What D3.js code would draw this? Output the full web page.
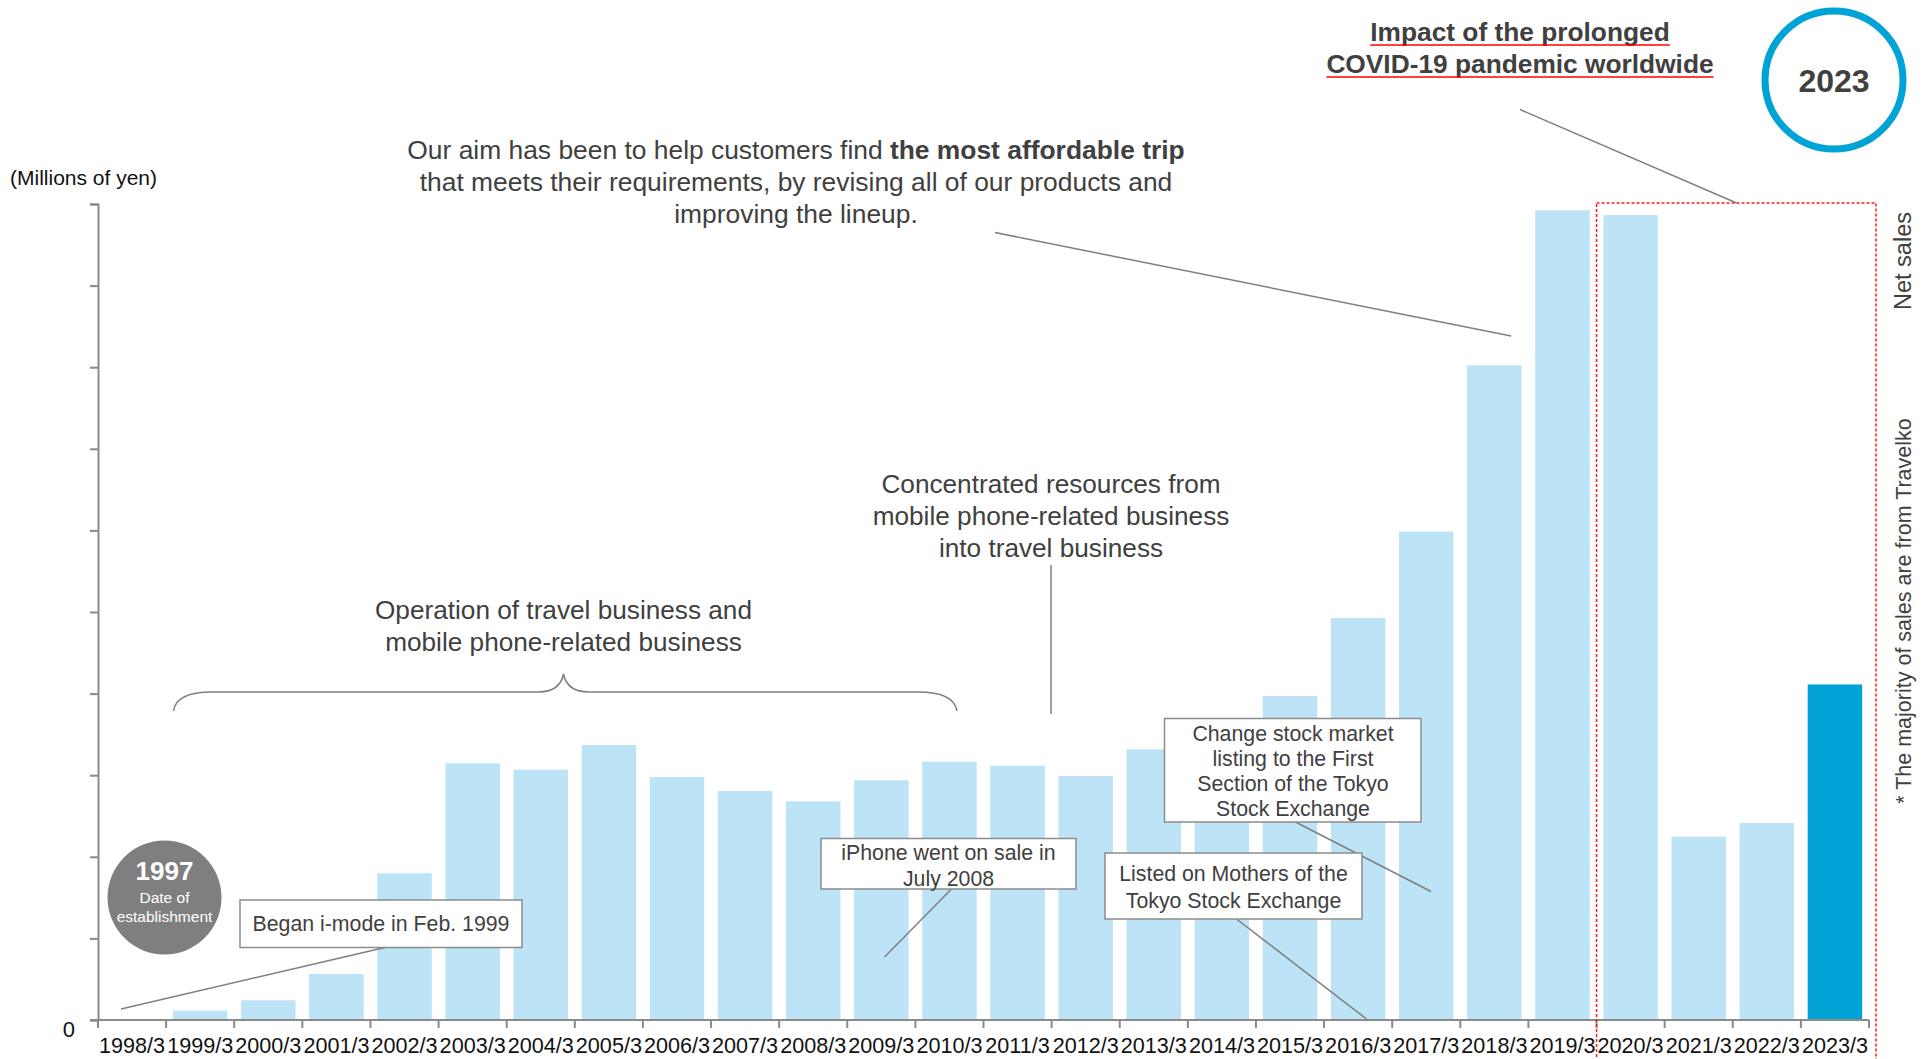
<!DOCTYPE html>
<html>
<head>
<meta charset="utf-8">
<script src="https://cdn.jsdelivr.net/npm/d3@7"></script>
<style>
  html, body { margin: 0; padding: 0; background: #fff; }
  svg { display: block; font-family: "Liberation Sans", Arial, sans-serif; }
</style>
</head>
<body>
<svg id="chart" width="1929" height="1059"></svg>
<script>
// Fiscal years (March year-end)
const categories = [
  "1998/3", "1999/3", "2000/3", "2001/3", "2002/3", "2003/3", "2004/3",
  "2005/3", "2006/3", "2007/3", "2008/3", "2009/3", "2010/3", "2011/3",
  "2012/3", "2013/3", "2014/3", "2015/3", "2016/3", "2017/3", "2018/3",
  "2019/3", "2020/3", "2021/3", "2022/3", "2023/3"
];
// Net sales, millions of yen
const netSales = [
  0, 57, 121, 282, 899, 1573, 1534, 1685, 1489, 1403, 1340, 1469, 1583,
  1558, 1495, 1659, 1765, 1985, 2463, 2993, 4012, 4962, 4932, 1124, 1207, 2056
];
const highlightYear = "2023/3";
const covidYears = ["2020/3", "2021/3", "2022/3", "2023/3"];
const yTicks = [0, 500, 1000, 1500, 2000, 2500, 3000, 3500, 4000, 4500, 5000];
const yTickLabels = ["0", "", "", "", "", "", "", "", "", "", ""];

const svg = d3.select("#chart");
const plot = { left: 98, right: 1869, top: 204, bottom: 1020 };

const x = d3.scaleBand()
  .domain(categories)
  .range([plot.left, plot.right])
  .paddingInner(0.2)
  .paddingOuter(0.1);
const y = d3.scaleLinear()
  .domain([0, d3.max(yTicks)])
  .range([plot.bottom, plot.top]);

const AXIS = "#8a8a8a";
const TEXT = "#404040";
const LEADER = "#7f7f7f";
const LIGHT = "#bde3f7";
const DARK = "#00a3d6";

// band boundary helper
const step = x.step();
const bandStart = c => x(c) - step * x.paddingInner() / 2;

// ---- bars ----
svg.append("g")
  .selectAll("rect")
  .data(categories.map((c, i) => ({ c, v: netSales[i] })))
  .join("rect")
  .attr("x", d => x(d.c))
  .attr("y", d => y(d.v))
  .attr("width", x.bandwidth())
  .attr("height", d => y(0) - y(d.v))
  .attr("fill", d => d.c === highlightYear ? DARK : LIGHT);

// ---- y axis ----
const yAxis = svg.append("g")
  .attr("transform", `translate(${plot.left},0)`)
  .call(d3.axisLeft(y).tickValues(yTicks).tickSize(8).tickPadding(15)
    .tickFormat((d, i) => yTickLabels[i]));
yAxis.select(".domain").attr("stroke", AXIS).attr("stroke-width", 2);
yAxis.selectAll(".tick line").attr("stroke", AXIS).attr("stroke-width", 2);
yAxis.selectAll(".tick text")
  .attr("font-family", "Liberation Sans, Arial, sans-serif")
  .attr("font-size", 22).attr("fill", "#111").attr("dy", "0.74em");

// ---- x axis ----
const xAxis = svg.append("g")
  .attr("transform", `translate(0,${plot.bottom})`)
  .call(d3.axisBottom(x).tickSize(0).tickPadding(18));
xAxis.select(".domain").remove();
xAxis.selectAll(".tick text")
  .attr("font-family", "Liberation Sans, Arial, sans-serif")
  .attr("font-size", 21.6).attr("fill", "#111");
svg.append("line")
  .attr("x1", plot.left - 8).attr("x2", plot.right)
  .attr("y1", plot.bottom).attr("y2", plot.bottom)
  .attr("stroke", AXIS).attr("stroke-width", 2);
svg.append("g").selectAll("line")
  .data(d3.range(categories.length + 1))
  .join("line")
  .attr("x1", i => plot.left + i * step).attr("x2", i => plot.left + i * step)
  .attr("y1", plot.bottom).attr("y2", plot.bottom + 8)
  .attr("stroke", AXIS).attr("stroke-width", 2);

svg.append("text")
  .attr("x", 10).attr("y", 185)
  .attr("font-size", 21).attr("fill", "#111")
  .text("(Millions of yen)");

// ---- COVID period frame ----
const frameLeft = bandStart(covidYears[0]);
svg.append("rect")
  .attr("x", frameLeft).attr("y", plot.top - 1)
  .attr("width", plot.right + 7 - frameLeft).attr("height", 900)
  .attr("fill", "none").attr("stroke", "#ff1a1a")
  .attr("stroke-width", 1.5).attr("stroke-dasharray", "3,2");

// ---- side notes ----
svg.append("text")
  .attr("transform", "translate(1911,261) rotate(-90)")
  .attr("text-anchor", "middle").attr("font-size", 23.5).attr("fill", TEXT)
  .text("Net sales");
svg.append("text")
  .attr("transform", "translate(1911,611) rotate(-90)")
  .attr("text-anchor", "middle").attr("font-size", 21.5).attr("fill", TEXT)
  .text("* The majority of sales are from Travelko");

// ---- helpers ----
function leader(x1, y1, x2, y2) {
  svg.append("line")
    .attr("x1", x1).attr("y1", y1).attr("x2", x2).attr("y2", y2)
    .attr("stroke", LEADER).attr("stroke-width", 1.5);
}
function lines(cx, y0, lh, arr, size, weight) {
  const t = svg.append("text")
    .attr("text-anchor", "middle").attr("font-size", size)
    .attr("fill", TEXT).attr("font-weight", weight || "normal");
  arr.forEach((s, i) => t.append("tspan").attr("x", cx).attr("y", y0 + i * lh).text(s));
  return t;
}
function box(x0, y0, w, h, cx, ty, lh, arr) {
  svg.append("rect")
    .attr("x", x0).attr("y", y0).attr("width", w).attr("height", h)
    .attr("fill", "#fff").attr("stroke", "#8c8c8c").attr("stroke-width", 1.5);
  lines(cx, ty, lh, arr, 21.3);
}

// ---- headline at top right ----
const impact = lines(1520, 41, 32, ["Impact of the prolonged", "COVID-19 pandemic worldwide"], 26.3, "bold");
impact.selectAll("tspan").each(function () {
  const w = this.getComputedTextLength();
  const yy = +d3.select(this).attr("y") + 4;
  svg.append("line")
    .attr("x1", 1520 - w / 2).attr("x2", 1520 + w / 2)
    .attr("y1", yy).attr("y2", yy)
    .attr("stroke", "#ff0000").attr("stroke-width", 1.5);
});
leader(1520, 109.5, bandStart(covidYears[0]) + 140, plot.top - 1);

svg.append("circle")
  .attr("cx", 1834).attr("cy", 80).attr("r", 69)
  .attr("fill", "#fff").attr("stroke", DARK).attr("stroke-width", 7);
svg.append("text")
  .attr("x", 1834).attr("y", 91.5).attr("text-anchor", "middle")
  .attr("font-size", 32).attr("font-weight", "bold").attr("fill", TEXT)
  .text("2023");

// ---- strategy note ----
const aim = svg.append("text").attr("text-anchor", "middle")
  .attr("font-size", 26.4).attr("fill", TEXT);
const l1 = aim.append("tspan").attr("x", 796).attr("y", 159);
l1.append("tspan").text("Our aim has been to help customers find ");
l1.append("tspan").attr("font-weight", "bold").text("the most affordable trip");
aim.append("tspan").attr("x", 796).attr("y", 191)
  .text("that meets their requirements, by revising all of our products and");
aim.append("tspan").attr("x", 796).attr("y", 223).text("improving the lineup.");
leader(995, 232.5, 1511, 336);

// ---- business phases ----
lines(1051, 493, 32, ["Concentrated resources from", "mobile phone-related business", "into travel business"], 26.2);
leader(1051, 565, 1051, 714);

lines(563.5, 619, 32, ["Operation of travel business and", "mobile phone-related business"], 26.2);
svg.append("path")
  .attr("d", "M173.5,711 Q176,692 212,692 L538,692 Q560,692 563.5,674 Q567,692 589,692 L918,692 Q954,692 957,711")
  .attr("fill", "none").attr("stroke", LEADER).attr("stroke-width", 1.5);

// ---- establishment badge ----
svg.append("circle").attr("cx", 164.5).attr("cy", 897.5).attr("r", 57).attr("fill", "#7f7f7f");
svg.append("text").attr("x", 164.5).attr("y", 880).attr("text-anchor", "middle")
  .attr("font-size", 26).attr("font-weight", "bold").attr("fill", "#fff").text("1997");
svg.append("text").attr("x", 164.5).attr("y", 903).attr("text-anchor", "middle")
  .attr("font-size", 15.5).attr("fill", "#fff").text("Date of");
svg.append("text").attr("x", 164.5).attr("y", 922).attr("text-anchor", "middle")
  .attr("font-size", 15.5).attr("fill", "#fff").text("establishment");

// ---- milestone callouts ----
leader(385, 947.5, 121, 1009);
box(240, 900, 282, 47.5, 381, 931, 26, ["Began i-mode in Feb. 1999"]);

leader(951.5, 889, 884.5, 957);
box(821, 838.5, 255, 50.5, 948.5, 860, 25.5, ["iPhone went on sale in", "July 2008"]);

leader(1295.5, 822, 1431, 891.5);
leader(1236.5, 919, 1366.5, 1019);
box(1164.5, 718.5, 256.5, 103.5, 1293, 741, 25, ["Change stock market", "listing to the First", "Section of the Tokyo", "Stock Exchange"]);
box(1105, 853, 257, 66, 1233.5, 881, 26.5, ["Listed on Mothers of the", "Tokyo Stock Exchange"]);
</script>
</body>
</html>
